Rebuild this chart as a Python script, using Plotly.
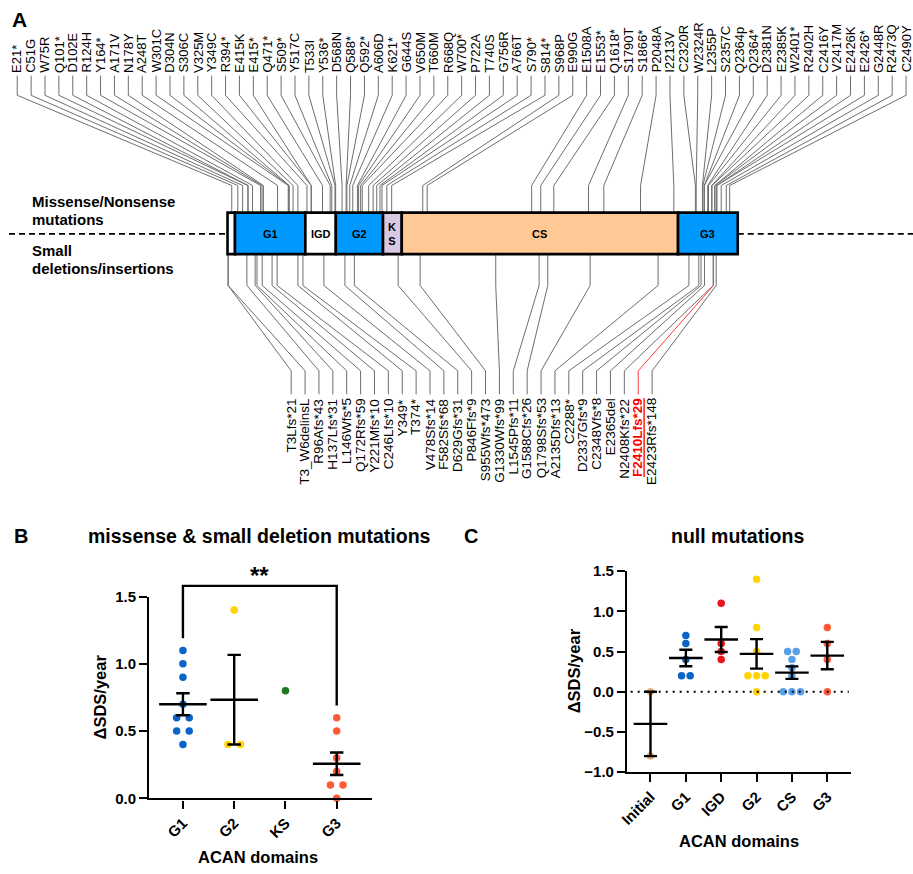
import re
import numpy as np
import plotly.graph_objects as go

W, H = 913, 874
FONT = "Liberation Sans, Arial, sans-serif"

# ---------------- Panel A data ----------------
protein_length = 2530
domain_names = ["", "G1", "IGD", "G2", "K<br>S", "CS", "G3"]
domain_starts = [0, 37, 386, 537, 771, 864, 2234]
domain_ends = [37, 386, 537, 771, 864, 2234, 2530]
domain_colors = ["#ffffff", "#0099ff", "#ffffff", "#0099ff", "#d8c8e2", "#ffc894", "#0099ff"]

top_labels = ["E21*", "C51G", "W75R", "Q101*", "D102E", "R124H", "Y164*", "A171V", "N178Y",
              "A248T", "W301C", "D304N", "S306C", "V325M", "Y349C", "R394*", "E415K", "E415*",
              "Q471*", "S509*", "Y517C", "T533I", "Y536*", "D568N", "Q588*", "Q592*", "A606D",
              "K621*", "G644S", "V650M", "T660M", "R668Q", "W700*", "P722A", "T740S", "G756R",
              "A766T", "S790*", "S814*", "S968P", "E990G", "E1508A", "E1553*", "Q1618*",
              "S1790T", "S1866*", "P2048A", "I2213V", "C2320R", "W2324R", "L2355P", "S2357C",
              "Q2364p", "Q2364*", "D2381N", "E2385K", "W2401*", "R2402H", "C2416Y", "V2417M",
              "E2426K", "E2426*", "G2448R", "R2473Q", "C2490Y"]
bottom_labels = ["T3Lfs*21", "T3_W6delinsL", "R96Afs*43", "H137Lfs*31", "L146Wfs*5",
                 "Q172Rfs*59", "Y221Mfs*10", "C246Lfs*10", "Y349*", "T374*", "V478Sfs*14",
                 "F582Sfs*68", "D629Gfs*31", "P846Ffs*9", "S955Wfs*473", "G1330Wfs*99",
                 "L1545Pfs*11", "G1588Cfs*26", "Q1798Sfs*53", "A2135Dfs*13", "C2288*",
                 "D2337Gfs*9", "C2348Vfs*8", "E2365del", "N2408Kfs*22", "F2410Lfs*29",
                 "E2423Rfs*148"]
highlight_label = "F2410Lfs*29"

top_pos = [int(re.search(r"\d+", s).group()) for s in top_labels]
bottom_pos = [int(re.search(r"\d+", s).group()) for s in bottom_labels]

# ---------------- Panel B data ----------------
b_categories = ["G1", "G2", "KS", "G3"]
b_g1 = [1.1, 1.0, 0.9, 0.7, 0.6, 0.6, 0.5, 0.5, 0.4]
b_g2 = [1.4, 0.4, 0.4]
b_ks = [0.8]
b_g3 = [0.6, 0.5, 0.3, 0.2, 0.1, 0.1, 0.0]
b_colors = ["#0a64c8", "#ffd400", "#1e7a1e", "#ff5a36"]

# ---------------- Panel C data ----------------
c_categories = ["Initial", "G1", "IGD", "G2", "CS", "G3"]
c_initial = [0.0, -0.8]
c_g1 = [0.7, 0.6, 0.4, 0.2, 0.2]
c_igd = [1.1, 0.6, 0.5, 0.4]
c_g2 = [1.4, 0.8, 0.5, 0.2, 0.2, 0.2, 0.0]
c_cs = [0.5, 0.5, 0.4, 0.3, 0.2, 0.0, 0.0, 0.0]
c_g3 = [0.8, 0.6, 0.4, 0.0]
c_colors = ["#e6b283", "#0a64c8", "#e8141e", "#ffd400", "#5aa0e6", "#ff5a36"]

# ================= layout helpers =================
def P(px, py):
    return px / W, 1 - py / H

# Panel A axis: x in amino-acid units, y in pixels from top
BAR_PX0, BAR_PX1 = 220.7, 736.0
aa_per_px = protein_length / (BAR_PX1 - BAR_PX0)
xa_range = [-BAR_PX0 * aa_per_px, (W - BAR_PX0) * aa_per_px]


def px_to_aa(px):
    return xa_range[0] + px * aa_per_px


BAR_Y0, BAR_Y1 = 207.7, 250.0
top_lx = [px_to_aa(v) for v in np.linspace(8.3, 906.0, len(top_labels))]
bot_lx = [px_to_aa(v) for v in np.linspace(285.0, 649.5, len(bottom_labels))]

fig = go.Figure()

# connector lines
gx, gy, rx, ry = [], [], [], []
for lx, a in zip(top_lx, top_pos):
    gx += [lx, lx, a, a, None]
    gy += [68, 88, 180, BAR_Y0, None]
for lab, lx, a in zip(bottom_labels, bot_lx, bottom_pos):
    xs = [a, a, lx, lx, None]
    ys = [BAR_Y1, 282, 369, 393, None]
    if lab == highlight_label:
        rx += xs
        ry += ys
    else:
        gx += xs
        gy += ys
fig.add_trace(go.Scatter(x=gx, y=gy, mode="lines", line=dict(color="#6e6e6e", width=1),
                         hoverinfo="skip", showlegend=False, xaxis="x", yaxis="y"))
fig.add_trace(go.Scatter(x=rx, y=ry, mode="lines", line=dict(color="#ff3b3b", width=1),
                         hoverinfo="skip", showlegend=False, xaxis="x", yaxis="y"))
# dashed lines
BAR_YM = (BAR_Y0 + BAR_Y1) / 2 + 0.5
fig.add_trace(go.Scatter(x=[xa_range[0], 0, None, protein_length, xa_range[1]],
                         y=[BAR_YM, BAR_YM, None, BAR_YM, BAR_YM], mode="lines",
                         line=dict(color="black", width=1.8, dash="6px,4px"),
                         hoverinfo="skip", showlegend=False, xaxis="x", yaxis="y"))

shapes = []
annotations = []
for name, s, e, col in zip(domain_names, domain_starts, domain_ends, domain_colors):
    shapes.append(dict(type="rect", xref="x", yref="y", x0=s, x1=e, y0=BAR_Y0, y1=BAR_Y1,
                       fillcolor=col, line=dict(color="black", width=2.6), layer="above"))
    if name:
        annotations.append(dict(x=(s + e) / 2, y=BAR_YM, xref="x", yref="y", text=name,
                                showarrow=False, font=dict(family=FONT, size=11, color="black",
                                                           weight="bold")))

for lab, lx in zip(top_labels, top_lx):
    annotations.append(dict(x=lx, y=66, xref="x", yref="y", text=lab, textangle=-90,
                            xanchor="center", yanchor="bottom", showarrow=False,
                            borderpad=0, font=dict(family=FONT, size=13, color="black")))
for lab, lx in zip(bottom_labels, bot_lx):
    if lab == highlight_label:
        txt = "<u>" + lab + "</u>"
        f = dict(family=FONT, size=13.5, color="#ff0000", weight="bold")
    else:
        txt = lab
        f = dict(family=FONT, size=13.5, color="black")
    annotations.append(dict(x=lx, y=396, xref="x", yref="y", text=txt, textangle=-90,
                            xanchor="center", yanchor="top", showarrow=False,
                            borderpad=0, font=f))

for txt, py in [("Missense/Nonsense", 196.7), ("mutations", 215.0),
                ("Small", 246.7), ("deletions/insertions", 265.0)]:
    x, y = P(21.0, py)
    annotations.append(dict(x=x, y=y, xref="paper", yref="paper", text=txt, xanchor="left",
                            yanchor="middle", showarrow=False,
                            font=dict(family=FONT, size=15, color="black", weight="bold")))

# panel letters and titles
for txt, px, py, sz in [("A", 11, 11, 21), ("B", 12, 537, 20), ("C", 467, 537, 20)]:
    x, y = P(px, py)
    annotations.append(dict(x=x, y=y, xref="paper", yref="paper", text=txt, showarrow=False,
                            xanchor="center", yanchor="middle",
                            font=dict(family=FONT, size=sz, color="black", weight="bold")))
for txt, px, py in [("missense & small deletion mutations", 253, 537),
                    ("null mutations", 735.5, 537)]:
    x, y = P(px, py)
    annotations.append(dict(x=x, y=y, xref="paper", yref="paper", text=txt, showarrow=False,
                            xanchor="center", yanchor="middle",
                            font=dict(family=FONT, size=19.5, color="black", weight="bold")))
# axis titles
for txt, px, py, ang in [("ΔSDS/year", 92, 702, -90), ("ACAN domains", 251, 865, 0),
                         ("ΔSDS/year", 570, 675, -90), ("ACAN domains", 737, 849, 0)]:
    x, y = P(px, py)
    annotations.append(dict(x=x, y=y, xref="paper", yref="paper", text=txt, showarrow=False,
                            textangle=ang, xanchor="center", yanchor="middle",
                            font=dict(family=FONT, size=16.5, color="black", weight="bold")))


# ================= Panels B and C =================
def spread(vals, step):
    counts = {}
    for v in vals:
        counts[v] = counts.get(v, 0) + 1
    seen, offs = {}, []
    for v in vals:
        k = counts[v]
        j = seen.get(v, 0)
        seen[v] = j + 1
        offs.append((j - (k - 1) / 2) * step)
    return offs


def add_group(i, vals, color, xa, ya, step, mean_w, cap_w):
    offs = spread(vals, step)
    fig.add_trace(go.Scatter(x=[i + o for o in offs], y=vals, mode="markers",
                             marker=dict(color=color, size=7.5, line=dict(width=0)),
                             cliponaxis=False, showlegend=False, xaxis=xa, yaxis=ya))
    if len(vals) > 1:
        arr = np.array(vals)
        m = arr.mean()
        sem = arr.std(ddof=1) / np.sqrt(len(arr))
        fig.add_trace(go.Scatter(x=[i], y=[m], mode="markers",
                                 marker=dict(symbol="line-ew", size=mean_w,
                                             line=dict(color="black", width=2.4)),
                                 error_y=dict(type="data", array=[sem], visible=True,
                                              color="black", thickness=2.4, width=cap_w),
                                 cliponaxis=False, showlegend=False, xaxis=xa, yaxis=ya))


for i, (vals, col) in enumerate(zip([b_g1, b_g2, b_ks, b_g3], b_colors)):
    add_group(i, vals, col, "x2", "y2", 0.245, 34, 6.7)
for i, (vals, col) in enumerate(zip([c_initial, c_g1, c_igd, c_g2, c_cs, c_g3], c_colors)):
    add_group(i, vals, col, "x3", "y3", 0.245, 24, 6.5)

# zero reference line in C
c_xrange = [-0.66, len(c_categories) - 1 + 0.66]
fig.add_trace(go.Scatter(x=[c_xrange[0] + 0.1, c_xrange[1] - 0.05], y=[0, 0], mode="lines",
                         line=dict(color="black", width=2, dash="2px,5px"),
                         showlegend=False, hoverinfo="skip", xaxis="x3", yaxis="y3"))

# significance bracket G1 vs G3 (on an extended twin y scale)
B_YMAX = 1.5
EXT = 1.8
bracket_gap = 0.09
bracket_top = 1.58
g1_i, g3_i = b_categories.index("G1"), b_categories.index("G3")
fig.add_trace(go.Scatter(x=[g1_i, g1_i, g3_i, g3_i],
                         y=[max(b_g1) + bracket_gap, bracket_top, bracket_top,
                            max(b_g3) + bracket_gap],
                         mode="lines", line=dict(color="black", width=2.4),
                         showlegend=False, hoverinfo="skip", xaxis="x2", yaxis="y4"))
annotations.append(dict(x=(g1_i + g3_i) / 2, y=1.66, xref="x2", yref="y4", text="**",
                        showarrow=False, yanchor="middle",
                        font=dict(family=FONT, size=24, color="black", weight="bold")))

b_dom_x = [141.7 / W, 366.7 / W]
b_dom_y = [1 - 805.0 / H, 1 - 599.3 / H]
c_dom_x = [624.3 / W, 850.0 / W]
c_dom_y = [1 - 778.3 / H, 1 - 573.3 / H]
y4_top = b_dom_y[0] + (b_dom_y[1] - b_dom_y[0]) * EXT / B_YMAX

axis_style = dict(showline=True, linewidth=2.4, linecolor="black", ticks="outside",
                  ticklen=8, tickwidth=2.4, tickcolor="black", showgrid=False,
                  zeroline=False, tickfont=dict(family=FONT, size=15, color="black",
                                                weight="bold"))

fig.update_layout(
    width=W, height=H, autosize=False,
    margin=dict(l=0, r=0, t=0, b=0),
    paper_bgcolor="white", plot_bgcolor="rgba(0,0,0,0)",
    showlegend=False,
    xaxis=dict(domain=[0, 1], range=xa_range, visible=False, anchor="y", fixedrange=True),
    yaxis=dict(domain=[0, 1], range=[H, 0], visible=False, anchor="x", fixedrange=True),
    xaxis2=dict(domain=b_dom_x, range=[-0.656, len(b_categories) - 1 + 0.69], anchor="y2",
                tickvals=list(range(len(b_categories))), ticktext=b_categories,
                tickangle=-45, **axis_style),
    yaxis2=dict(domain=b_dom_y, range=[0, B_YMAX], anchor="x2",
                tickvals=[0, 0.5, 1.0, 1.5], tickformat=".1f", **axis_style),
    yaxis4=dict(domain=[b_dom_y[0], y4_top], range=[0, EXT], anchor="x2", visible=False),
    xaxis3=dict(domain=c_dom_x, range=c_xrange, anchor="y3",
                tickvals=list(range(len(c_categories))), ticktext=c_categories,
                tickangle=-45, **axis_style),
    yaxis3=dict(domain=c_dom_y, range=[-1.0, 1.5], anchor="x3",
                tickvals=[-1.0, -0.5, 0, 0.5, 1.0, 1.5], tickformat=".1f", **axis_style),
    shapes=shapes,
    annotations=annotations,
)

fig.write_html("out.html", config={"displayModeBar": False},
               post_script="document.body.style.margin='0px';document.body.style.padding='0px';")
